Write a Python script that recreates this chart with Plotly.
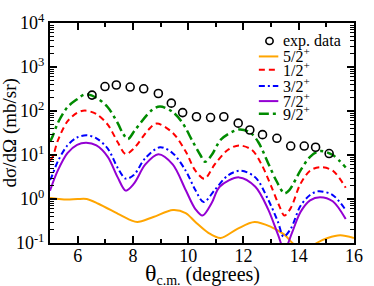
import plotly.graph_objects as go

# ---- data ----
exp_theta = [6.52, 6.99, 7.40, 7.90, 8.39, 8.92, 9.39, 9.80, 10.30, 10.81, 11.29,
             11.81, 12.23, 12.69, 13.21, 13.71, 14.20, 14.61, 15.10]
exp_xs = [230, 360, 390, 350, 320, 250, 151, 92, 74, 71, 74,
          53, 37, 29, 24, 16, 16, 15, 10.8]

t52 = [5.0, 5.3, 5.63, 6.0, 6.33, 6.75, 7.46, 7.92, 8.16, 8.74, 9.45, 9.91, 10.26,
       10.73, 11.17, 11.78, 12.4, 13.01, 13.48, 13.77, 14.1, 14.3, 14.65, 15.05, 15.5, 16.0]
s52 = [1.05, 1.0, 0.97, 1.0, 1.0, 0.78, 0.46, 0.33, 0.30, 0.39, 0.56, 0.48, 0.30,
       0.17, 0.13, 0.21, 0.30, 0.23, 0.155, 0.10, 0.066, 0.062, 0.10, 0.13, 0.15, 0.13]

t12 = [5.0, 5.1, 5.28, 5.63, 5.98, 6.27, 6.68, 7.09, 7.45, 7.74, 8.03, 8.57, 8.86, 9.44,
       9.91, 10.26, 10.59, 10.96, 11.43, 11.84, 12.31, 12.66, 13.01, 13.3, 13.48, 13.71,
       14.06, 14.41, 14.77, 15.23, 15.70]
s12 = [7.5, 9.1, 21, 58, 91, 102, 85, 49, 19.5, 10.5, 14, 38, 52, 32,
       12, 4.4, 2.9, 6.1, 13, 16.5, 13, 6, 1.9, 0.69, 0.42, 0.62,
       2.2, 4.4, 5.3, 4.4, 1.8]

t32 = [5.0, 5.05, 5.28, 5.63, 5.98, 6.33, 6.68, 7.09, 7.45, 7.74, 8.03, 8.45, 8.98, 9.44,
       9.91, 10.26, 10.56, 10.96, 11.43, 11.9, 12.43, 12.89, 13.25, 13.45, 13.71, 14.06,
       14.41, 14.71, 15.23, 15.70]
s32 = [2.7, 3.1, 7.1, 16.5, 25, 28, 24, 14, 5.1, 2.9, 3.5, 8.5, 15, 11,
       4.4, 1.6, 0.85, 1.6, 3.4, 4.4, 3.1, 0.98, 0.3, 0.14, 0.21, 0.69,
       1.23, 1.5, 1.23, 0.56]

t72 = [5.0, 5.28, 5.63, 5.98, 6.31, 6.68, 7.09, 7.45, 7.74, 8.03, 8.45, 8.92, 9.44, 9.91,
       10.26, 10.52, 10.85, 11.14, 11.84, 12.43, 12.89, 13.25, 13.48, 13.77, 14.06, 14.41,
       14.77, 15.23, 15.70]
s72 = [1.55, 4.4, 11, 17, 19, 16.5, 9.1, 3.1, 1.55, 2.2, 6.1, 10.4, 6.1, 1.6,
       0.59, 0.42, 0.81, 1.9, 3.1, 1.9, 0.59, 0.155, 0.07, 0.18, 0.5, 0.93,
       1.1, 0.89, 0.35]

t92 = [5.0, 5.1, 5.28, 5.63, 5.98, 6.27, 6.68, 7.09, 7.45, 7.65, 7.82, 8.09, 8.68, 8.98,
       9.44, 9.80, 10.15, 10.44, 10.61, 10.85, 11.2, 11.84, 12.25, 12.54, 12.89, 13.19,
       13.48, 13.66, 14.06, 14.41, 14.77, 15.23, 15.70]
s92 = [20, 27, 53, 122, 185, 240, 200, 122, 53, 30, 23, 38, 104, 126,
       95, 53, 21, 10, 7, 10, 23, 38, 32, 19.5, 6.6, 2.6,
       1.35, 1.6, 4.4, 9.1, 12.3, 10, 5.2]

x_ticks = [6, 8, 10, 12, 14, 16]
y_ticks = [0.1, 1, 10, 100, 1000, 10000]
y_ticktext = ["10<sup>-1</sup>", "10<sup>0</sup>", "10<sup>1</sup>",
              "10<sup>2</sup>", "10<sup>3</sup>", "10<sup>4</sup>"]

SERIF = "Liberation Serif"

curves = [
    ("5/2<sup>+</sup>", t52, s52, "#FFA500", "solid", 2),
    ("1/2<sup>+</sup>", t12, s12, "#FF0000", "6px,4px", 2),
    ("3/2<sup>+</sup>", t32, s32, "#0000FF", "6px,3px,2px,3px", 2),
    ("7/2<sup>+</sup>", t72, s72, "#9400D3", "solid", 2),
    ("9/2<sup>+</sup>", t92, s92, "#008B00", "10px,4px,3px,4px", 2.5),
]

fig = go.Figure()
for name, t, s, col, dash, w in curves:
    fig.add_trace(go.Scatter(x=t, y=s, mode="lines", name=name, showlegend=False,
                             line=dict(color=col, dash=dash, width=w, shape="spline", smoothing=0.9)))

fig.add_trace(go.Scatter(x=exp_theta, y=exp_xs, mode="markers", name="exp. data", showlegend=False,
                         marker=dict(symbol="circle-open", size=8, color="black",
                                     line=dict(color="black", width=1.6))))

# ---- hand-drawn legend (paper coords of plot area) ----
row_y = [0.918, 0.848, 0.788, 0.714, 0.645, 0.587]
lx0, lx1, tx = 0.687, 0.751, 0.760
shapes = []
annotations = []
shapes.append(dict(type="circle", xref="paper", yref="paper",
                   x0=0.710, x1=0.734, y0=row_y[0] - 0.016, y1=row_y[0] + 0.016,
                   line=dict(color="black", width=1.6)))
annotations.append(dict(text="exp. data", xref="paper", yref="paper", x=tx, y=row_y[0],
                        xanchor="left", yanchor="middle", showarrow=False,
                        font=dict(family=SERIF, size=16, color="black")))
for i, (name, t, s, col, dash, w) in enumerate(curves):
    y = row_y[i + 1]
    shapes.append(dict(type="line", xref="paper", yref="paper", x0=lx0, x1=lx1, y0=y, y1=y,
                       line=dict(color=col, dash=dash, width=w)))
    annotations.append(dict(text=name, xref="paper", yref="paper", x=tx, y=y + 0.005,
                            xanchor="left", yanchor="middle", showarrow=False,
                            font=dict(family=SERIF, size=16, color="black")))

# axis titles
annotations.append(dict(text="dσ/dΩ (mb/sr)", xref="paper", yref="paper", x=-0.13, y=0.5,
                        xanchor="center", yanchor="middle", textangle=-90, showarrow=False,
                        font=dict(family=SERIF, size=19, color="black")))
annotations.append(dict(text="<span style='font-size:24px'>θ</span><sub>c.m.</sub> (degrees)",
                        xref="paper", yref="paper", x=0.5, y=-0.07,
                        xanchor="center", yanchor="top", showarrow=False,
                        font=dict(family=SERIF, size=20, color="black")))

fig.update_layout(
    width=374, height=286,
    margin=dict(l=50, r=11, t=12, b=43),
    paper_bgcolor="white", plot_bgcolor="white",
    font=dict(family=SERIF, size=18, color="black"),
    shapes=shapes, annotations=annotations,
    showlegend=False,
)
fig.update_xaxes(range=[5, 16], tickvals=x_ticks, ticks="inside", ticklen=7, tickwidth=1.5,
                 tickcolor="black", showline=True, linewidth=2, linecolor="black",
                 mirror="allticks", showgrid=False, zeroline=False, ticklabelstandoff=-5,
                 minor=dict(dtick=1, ticks="inside", ticklen=4, tickwidth=1.5, tickcolor="black"),
                 tickfont=dict(family=SERIF, size=18))
fig.update_yaxes(type="log", range=[-1, 4], tickvals=y_ticks, ticktext=y_ticktext,
                 ticks="inside", ticklen=7, tickwidth=1.5, tickcolor="black",
                 showline=True, linewidth=2, linecolor="black", mirror="allticks",
                 showgrid=False, zeroline=False,
                 minor=dict(dtick="D1", ticks="inside", ticklen=4, tickwidth=1.2, tickcolor="black"),
                 tickfont=dict(family=SERIF, size=18))

fig.write_html("out.html", config={"displayModeBar": False},
               post_script="document.body.style.margin='0';")
